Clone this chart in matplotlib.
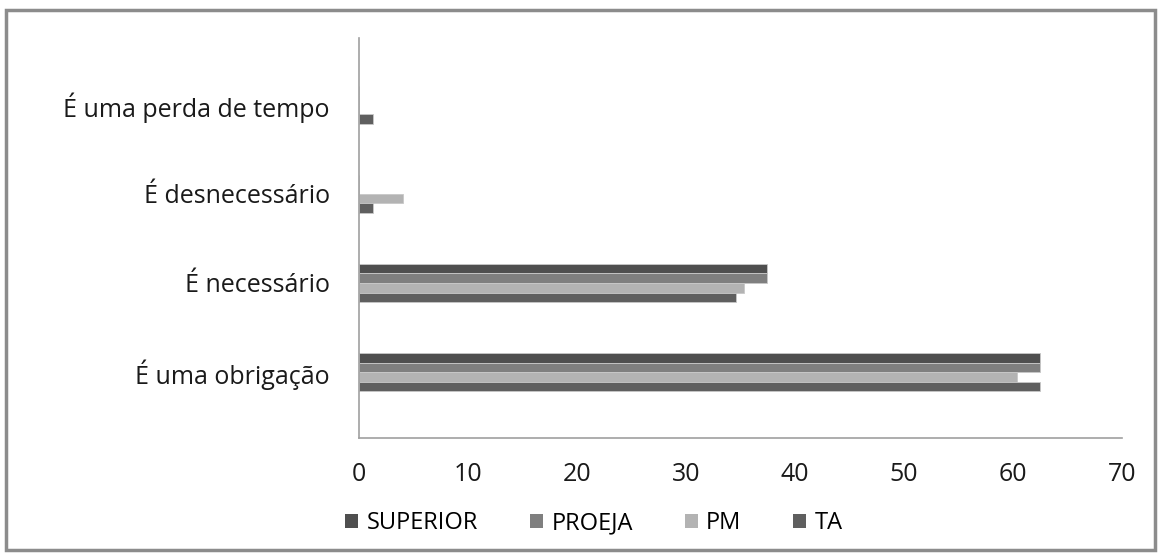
import matplotlib
matplotlib.use("Agg")
import matplotlib.pyplot as plt
import numpy as np
from matplotlib.patches import Rectangle

categories = ["É uma obrigação", "É necessário", "É desnecessário", "É uma perda de tempo"]
series = ["SUPERIOR", "PROEJA", "PM", "TA"]
superior = [62.5, 37.4, 0, 0]
proeja = [62.5, 37.4, 0, 0]
pm = [60.4, 35.3, 4.0, 0]
ta = [62.5, 34.6, 1.3, 1.3]
colors = ["#4f4f4f", "#7f7f7f", "#b3b3b3", "#5f5f5f"]
xticks = [0, 10, 20, 30, 40, 50, 60, 70]

plt.rcParams['font.family'] = ['Open Sans', 'DejaVu Sans']

fig = plt.figure(figsize=(11.63, 5.55), dpi=100)
fig.patches.append(Rectangle((6/1163, 1-550/555), 1149/1163, 540/555,
                             transform=fig.transFigure, fill=False,
                             edgecolor="#8c8c8c", linewidth=2.5))
ax = fig.add_axes([359/1163, 1-438/555, (1122-359)/1163, (438-38)/555])

y = np.arange(len(categories))
h = 0.107
data = [superior, proeja, pm, ta]
for i, (name, vals, c) in enumerate(zip(series, data, colors)):
    offs = (1.5 - i) * h
    ax.barh(y + offs, vals, height=h, color=c, edgecolor="#c8c8c8",
            linewidth=0.6, label=name)

ax.set_xlim(0, 70)
ax.set_ylim(-0.74, 3.75)
ax.set_xticks(xticks)
ax.set_yticks(y)
ax.set_yticklabels(categories)
for s in ["top", "right"]:
    ax.spines[s].set_visible(False)
for s in ["left", "bottom"]:
    ax.spines[s].set_color("#a0a0a0")
    ax.spines[s].set_linewidth(1.2)
ax.tick_params(axis="both", length=0, labelsize=18, colors="#1a1a1a")
ax.tick_params(axis="x", pad=17)
ax.tick_params(axis="y", pad=21)

leg = fig.legend(loc="center", bbox_to_anchor=(594/1163, 1-523/555), ncol=4,
                 frameon=False, fontsize=17, handlelength=0.55, handleheight=0.55,
                 handletextpad=0.35, columnspacing=2.2)
for p in leg.get_patches():
    p.set_edgecolor("none")

fig.savefig("out.png", dpi=100)
